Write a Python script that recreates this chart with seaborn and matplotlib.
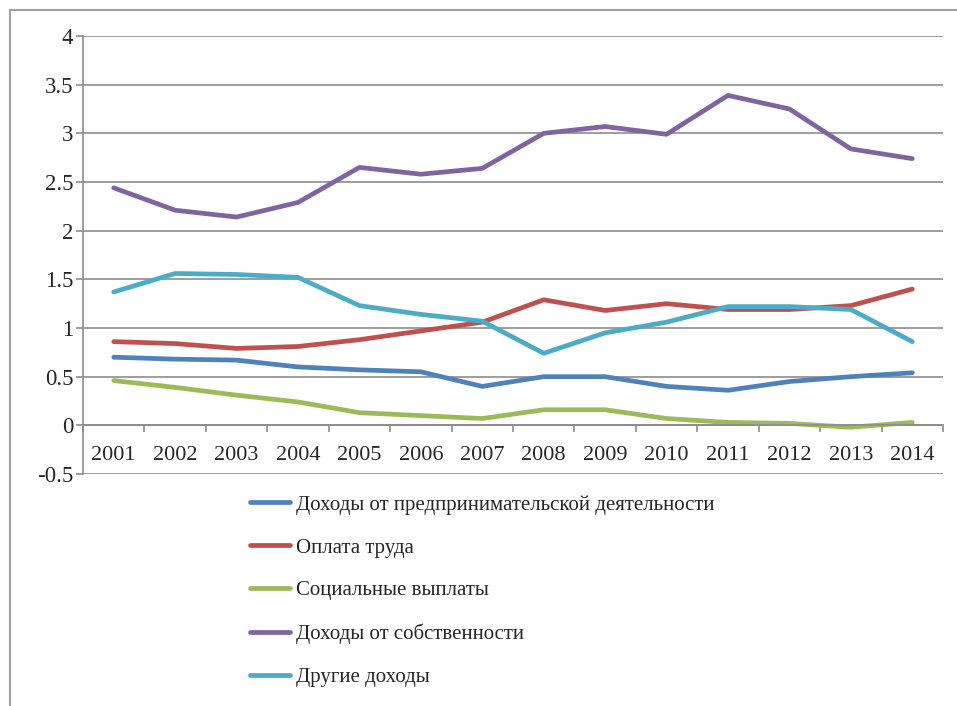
import pandas as pd
import seaborn as sns
import matplotlib.pyplot as plt
from matplotlib.patches import Rectangle
from matplotlib.ticker import FixedLocator

years = list(range(2001, 2015))
series_names = ["Доходы от предпринимательской деятельности", "Оплата труда",
                "Социальные выплаты", "Доходы от собственности", "Другие доходы"]

business = [0.70, 0.68, 0.67, 0.60, 0.57, 0.55, 0.40, 0.50, 0.50, 0.40, 0.36, 0.45, 0.50, 0.54]
wages = [0.86, 0.84, 0.79, 0.81, 0.88, 0.97, 1.06, 1.29, 1.18, 1.25, 1.19, 1.19, 1.23, 1.40]
social = [0.46, 0.39, 0.31, 0.24, 0.13, 0.10, 0.07, 0.16, 0.16, 0.07, 0.03, 0.02, -0.02, 0.03]
property_inc = [2.44, 2.21, 2.14, 2.29, 2.65, 2.58, 2.64, 3.00, 3.07, 2.99, 3.39, 3.25, 2.84, 2.74]
other = [1.37, 1.56, 1.55, 1.52, 1.23, 1.14, 1.07, 0.74, 0.95, 1.06, 1.22, 1.22, 1.19, 0.86]

colors = ["#4F81BD", "#C0504D", "#9BBB59", "#8064A2", "#4BACC6"]

rows = []
for name, vals in zip(series_names, [business, wages, social, property_inc, other]):
    for y, v in zip(years, vals):
        rows.append({"Год": y, "Значение": v, "Показатель": name})
df = pd.DataFrame(rows)

sns.set_style("white")
plt.rcParams['font.family'] = ['Liberation Serif', 'DejaVu Serif']
plt.rcParams['font.size'] = 16

grid_c = "#8C8C8C"

fig = plt.figure(figsize=(9.57, 7.06), dpi=100)
ax = fig.add_axes([83 / 957, 1 - 474 / 706, (943 - 83) / 957, (474 - 36) / 706])

sns.lineplot(data=df, x="Год", y="Значение", hue="Показатель", hue_order=series_names,
             palette=colors, linewidth=3.4, ax=ax)

ax.set_xlim(2000.5, 2014.5)
ax.set_ylim(-0.5, 4)
ax.set_yticks([-0.5, 0, 0.5, 1, 1.5, 2, 2.5, 3, 3.5, 4])
ax.set_yticklabels(["-0.5", "0", "0.5", "1", "1.5", "2", "2.5", "3", "3.5", "4"])
ax.set_xticks(years)
ax.set_xticklabels([str(y) for y in years])
ax.xaxis.set_minor_locator(FixedLocator([y + 0.5 for y in range(2000, 2015)]))
ax.set_xlabel("")
ax.set_ylabel("")

ax.yaxis.grid(True, color=grid_c, linewidth=1.2)
ax.set_axisbelow(True)
for s in ["top", "right"]:
    ax.spines[s].set_visible(False)
ax.spines["left"].set_color(grid_c)
ax.spines["left"].set_linewidth(1.2)
ax.spines["bottom"].set_position(("data", 0))
ax.spines["bottom"].set_color(grid_c)
ax.spines["bottom"].set_linewidth(1.2)

ax.tick_params(axis="y", which="major", length=5, width=1.2, color=grid_c, pad=2,
               labelsize=16.5, left=True)
ax.tick_params(axis="x", which="major", length=0, pad=15, labelsize=16)
ax.tick_params(axis="x", which="minor", length=5, width=1.2, color=grid_c,
               direction="out", bottom=True)

sns.move_legend(ax, "upper left", bbox_to_anchor=(250 / 957, 1 - 495 / 706),
                bbox_transform=fig.transFigure, frameon=False, title=None,
                fontsize=15, handlelength=1.9, handletextpad=0.3,
                labelspacing=1.12, borderpad=0, borderaxespad=0)
leg = ax.get_legend()
for ln in leg.get_lines():
    ln.set_linewidth(3.4)

fig.patches.append(Rectangle((10 / 957, -0.1), 1.2, 1 - 10 / 706 + 0.1,
                             transform=fig.transFigure, fill=False,
                             edgecolor="#A0A0A0", linewidth=1.5))

fig.savefig("out.png", dpi=100)
